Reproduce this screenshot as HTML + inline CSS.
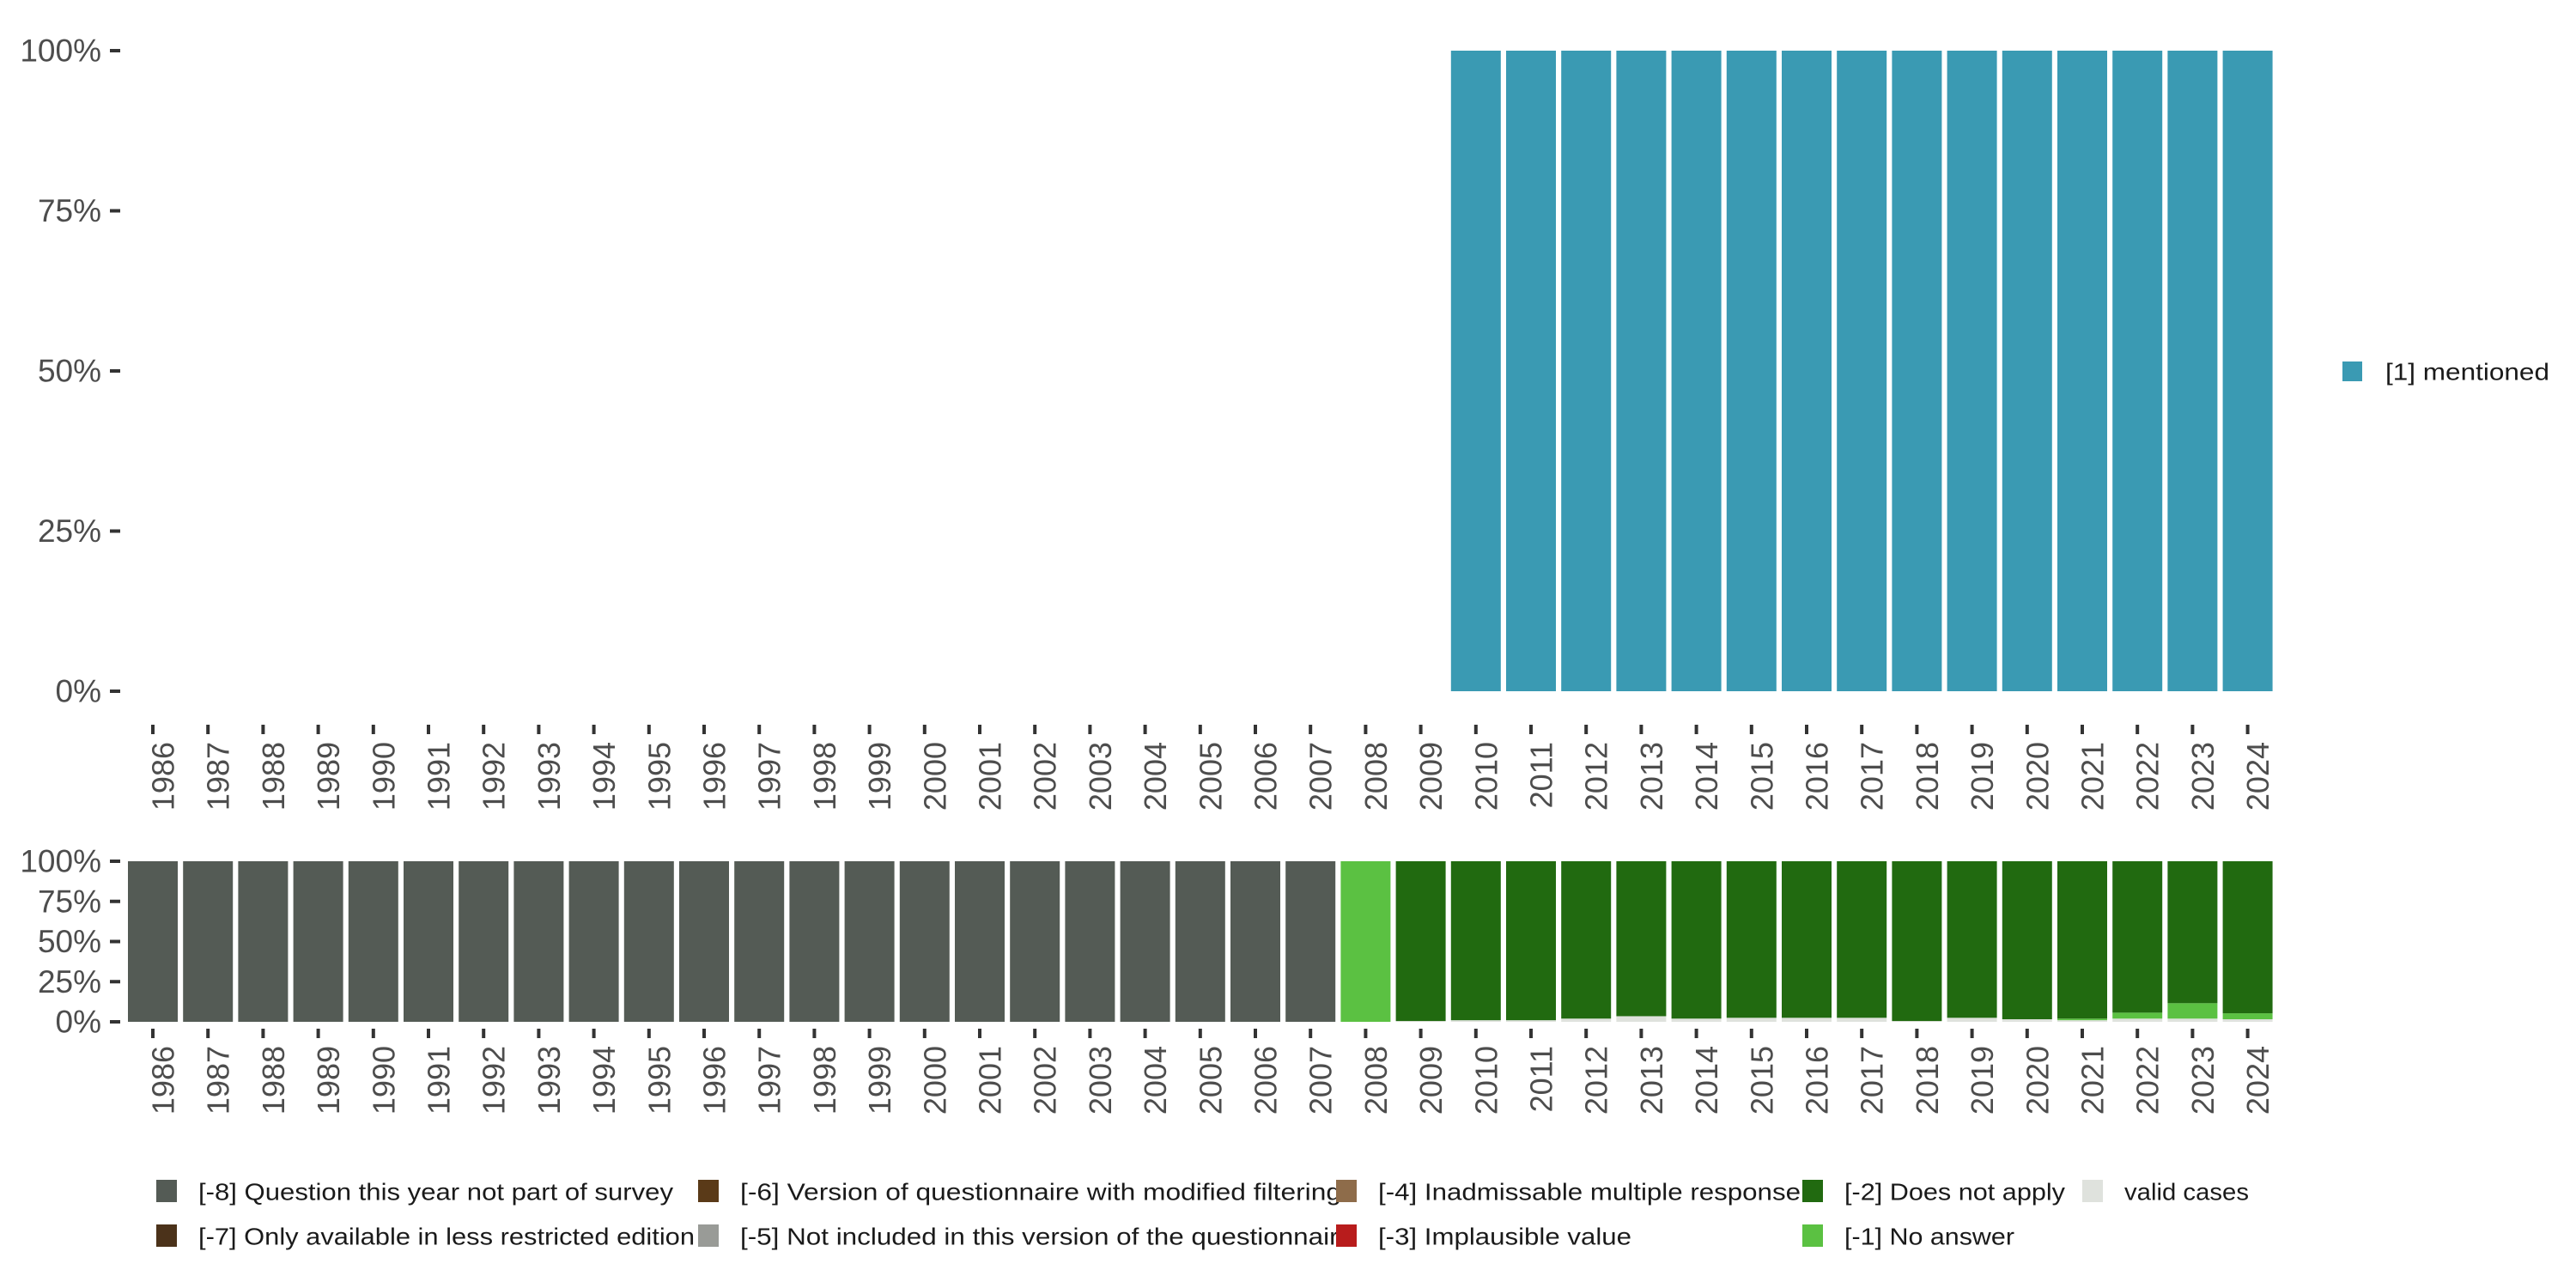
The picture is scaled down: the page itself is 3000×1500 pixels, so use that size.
<!DOCTYPE html>
<html><head><meta charset="utf-8">
<style>
html,body{margin:0;padding:0;background:#fff;}
svg{display:block;font-family:"Liberation Sans",sans-serif;}
</style></head>
<body>
<svg id="chart" width="3000" height="1500" viewBox="0 0 3000 1500"></svg>
<script>
const years = [1986,1987,1988,1989,1990,1991,1992,1993,1994,1995,1996,1997,1998,1999,2000,2001,2002,2003,2004,2005,2006,2007,2008,2009,2010,2011,2012,2013,2014,2015,2016,2017,2018,2019,2020,2021,2022,2023,2024];
const mentioned = [null,null,null,null,null,null,null,null,null,null,null,null,null,null,null,null,null,null,null,null,null,null,null,null,100,100,100,100,100,100,100,100,100,100,100,100,100,100,100];
const notInSurvey = [100,100,100,100,100,100,100,100,100,100,100,100,100,100,100,100,100,100,100,100,100,100,0,0,0,0,0,0,0,0,0,0,0,0,0,0,0,0,0];
const validCases = [0,0,0,0,0,0,0,0,0,0,0,0,0,0,0,0,0,0,0,0,0,0,0,0.5,1,1,2,3.5,2,2.5,2.5,2.5,0.5,2.5,1.6,1,2,2,1.6];
const noAnswer = [0,0,0,0,0,0,0,0,0,0,0,0,0,0,0,0,0,0,0,0,0,0,100,0,0,0,0,0,0,0,0,0,0,0,0,1,3.7,9.6,3.7];
const yTicks = [0,25,50,75,100];
const yTickLabels = ["0%","25%","50%","75%","100%"];

const svg = document.getElementById('chart');
const NS = 'http://www.w3.org/2000/svg';
function mk(tag, attrs){const e=document.createElementNS(NS,tag);for(const k in attrs)e.setAttribute(k,attrs[k]);svg.appendChild(e);return e;}
const xPos = i => 178 + i*64.2;
const barW = 58;
const yTop = v => 805 - v/100*(805-59);
const yBot = v => 1190 - v/100*(1190-1003);

yTicks.forEach((t,i)=>{
  let tx = mk('text',{x:118,y:yTop(t),'text-anchor':'end','dominant-baseline':'central','font-size':37,fill:'#4d4d4d'});
  tx.textContent = yTickLabels[i];
  
  
  let tk = mk('rect',{x:128,y:yTop(t)-2,width:12,height:4,fill:'#333'});
  
  
  let tx2 = mk('text',{x:118,y:yBot(t),'text-anchor':'end','dominant-baseline':'central','font-size':37,fill:'#4d4d4d'});
  tx2.textContent = yTickLabels[i];
  
  
  let tk2 = mk('rect',{x:128,y:yBot(t)-2,width:12,height:4,fill:'#333'});
  
  
});

years.forEach((yr,i)=>{
  const cx = xPos(i);
  if(mentioned[i]!=null && mentioned[i]>0){
    let b = mk('rect',{x:cx-barW/2,y:yTop(mentioned[i]),width:barW,height:yTop(0)-yTop(mentioned[i]),fill:'#3a9ab3'});
    
    
  }
  const segs = [[validCases[i],'#dfe2dd','valid'],[noAnswer[i],'#5bc142','no-answer'],[0,'#216a10','does-not-apply'],[notInSurvey[i],'#545b55','not-in-survey']];
  const dna = 100 - validCases[i] - noAnswer[i] - notInSurvey[i];
  segs[2][0] = dna>0?dna:0;
  let acc = 0;
  segs.forEach(s=>{
    if(s[0]>0){
      let r = mk('rect',{x:cx-barW/2,y:yBot(acc+s[0]),width:barW,height:yBot(acc)-yBot(acc+s[0]),fill:s[1]});
      
      
      acc += s[0];
    }
  });
  let t1 = mk('rect',{x:cx-2,y:844,width:4,height:11,fill:'#333'});
  
  
  let l1 = mk('text',{x:0,y:0,transform:'translate('+(cx+12)+',864) rotate(-90)','text-anchor':'end','dominant-baseline':'central','font-size':36,fill:'#4d4d4d'});
  l1.textContent = yr;
  
  
  let t2 = mk('rect',{x:cx-2,y:1198,width:4,height:11,fill:'#333'});
  
  
  let l2 = mk('text',{x:0,y:0,transform:'translate('+(cx+12)+',1218) rotate(-90)','text-anchor':'end','dominant-baseline':'central','font-size':36,fill:'#4d4d4d'});
  l2.textContent = yr;
  
  
});

let rl = mk('rect',{x:2728,y:421,width:23,height:23,fill:'#3a9ab3'});


let rt = mk('text',{x:2778,y:433,'dominant-baseline':'central','font-size':28,fill:'#1a1a1a',textLength:191,lengthAdjust:'spacingAndGlyphs'});
rt.textContent = '[1] mentioned';



const legItems = [
 [182,1387,'#545b55','[-8] Question this year not part of survey',553],
 [813,1387,'#5a3a18','[-6] Version of questionnaire with modified filtering',700],
 [1556,1387,'#8e6c4a','[-4] Inadmissable multiple response',492],
 [2099,1387,'#216a10','[-2] Does not apply',257],
 [2425,1387,'#dfe2dd','valid cases',145],
 [182,1439,'#4b321a','[-7] Only available in less restricted edition',578],
 [813,1439,'#999b97','[-5] Not included in this version of the questionnaire',714],
 [1556,1439,'#b81c1c','[-3] Implausible value',295],
 [2099,1439,'#5bc142','[-1] No answer',198]
];
legItems.forEach(it=>{
  let k = mk('rect',{x:it[0],y:it[1]-13,width:24,height:26,fill:it[2]});
  
  
  let t = mk('text',{x:it[0]+49,y:it[1]+1,'dominant-baseline':'central','font-size':28,fill:'#1a1a1a',textLength:it[4],lengthAdjust:'spacingAndGlyphs'});
  t.textContent = it[3];
  
  
});
</script>
</body></html>
